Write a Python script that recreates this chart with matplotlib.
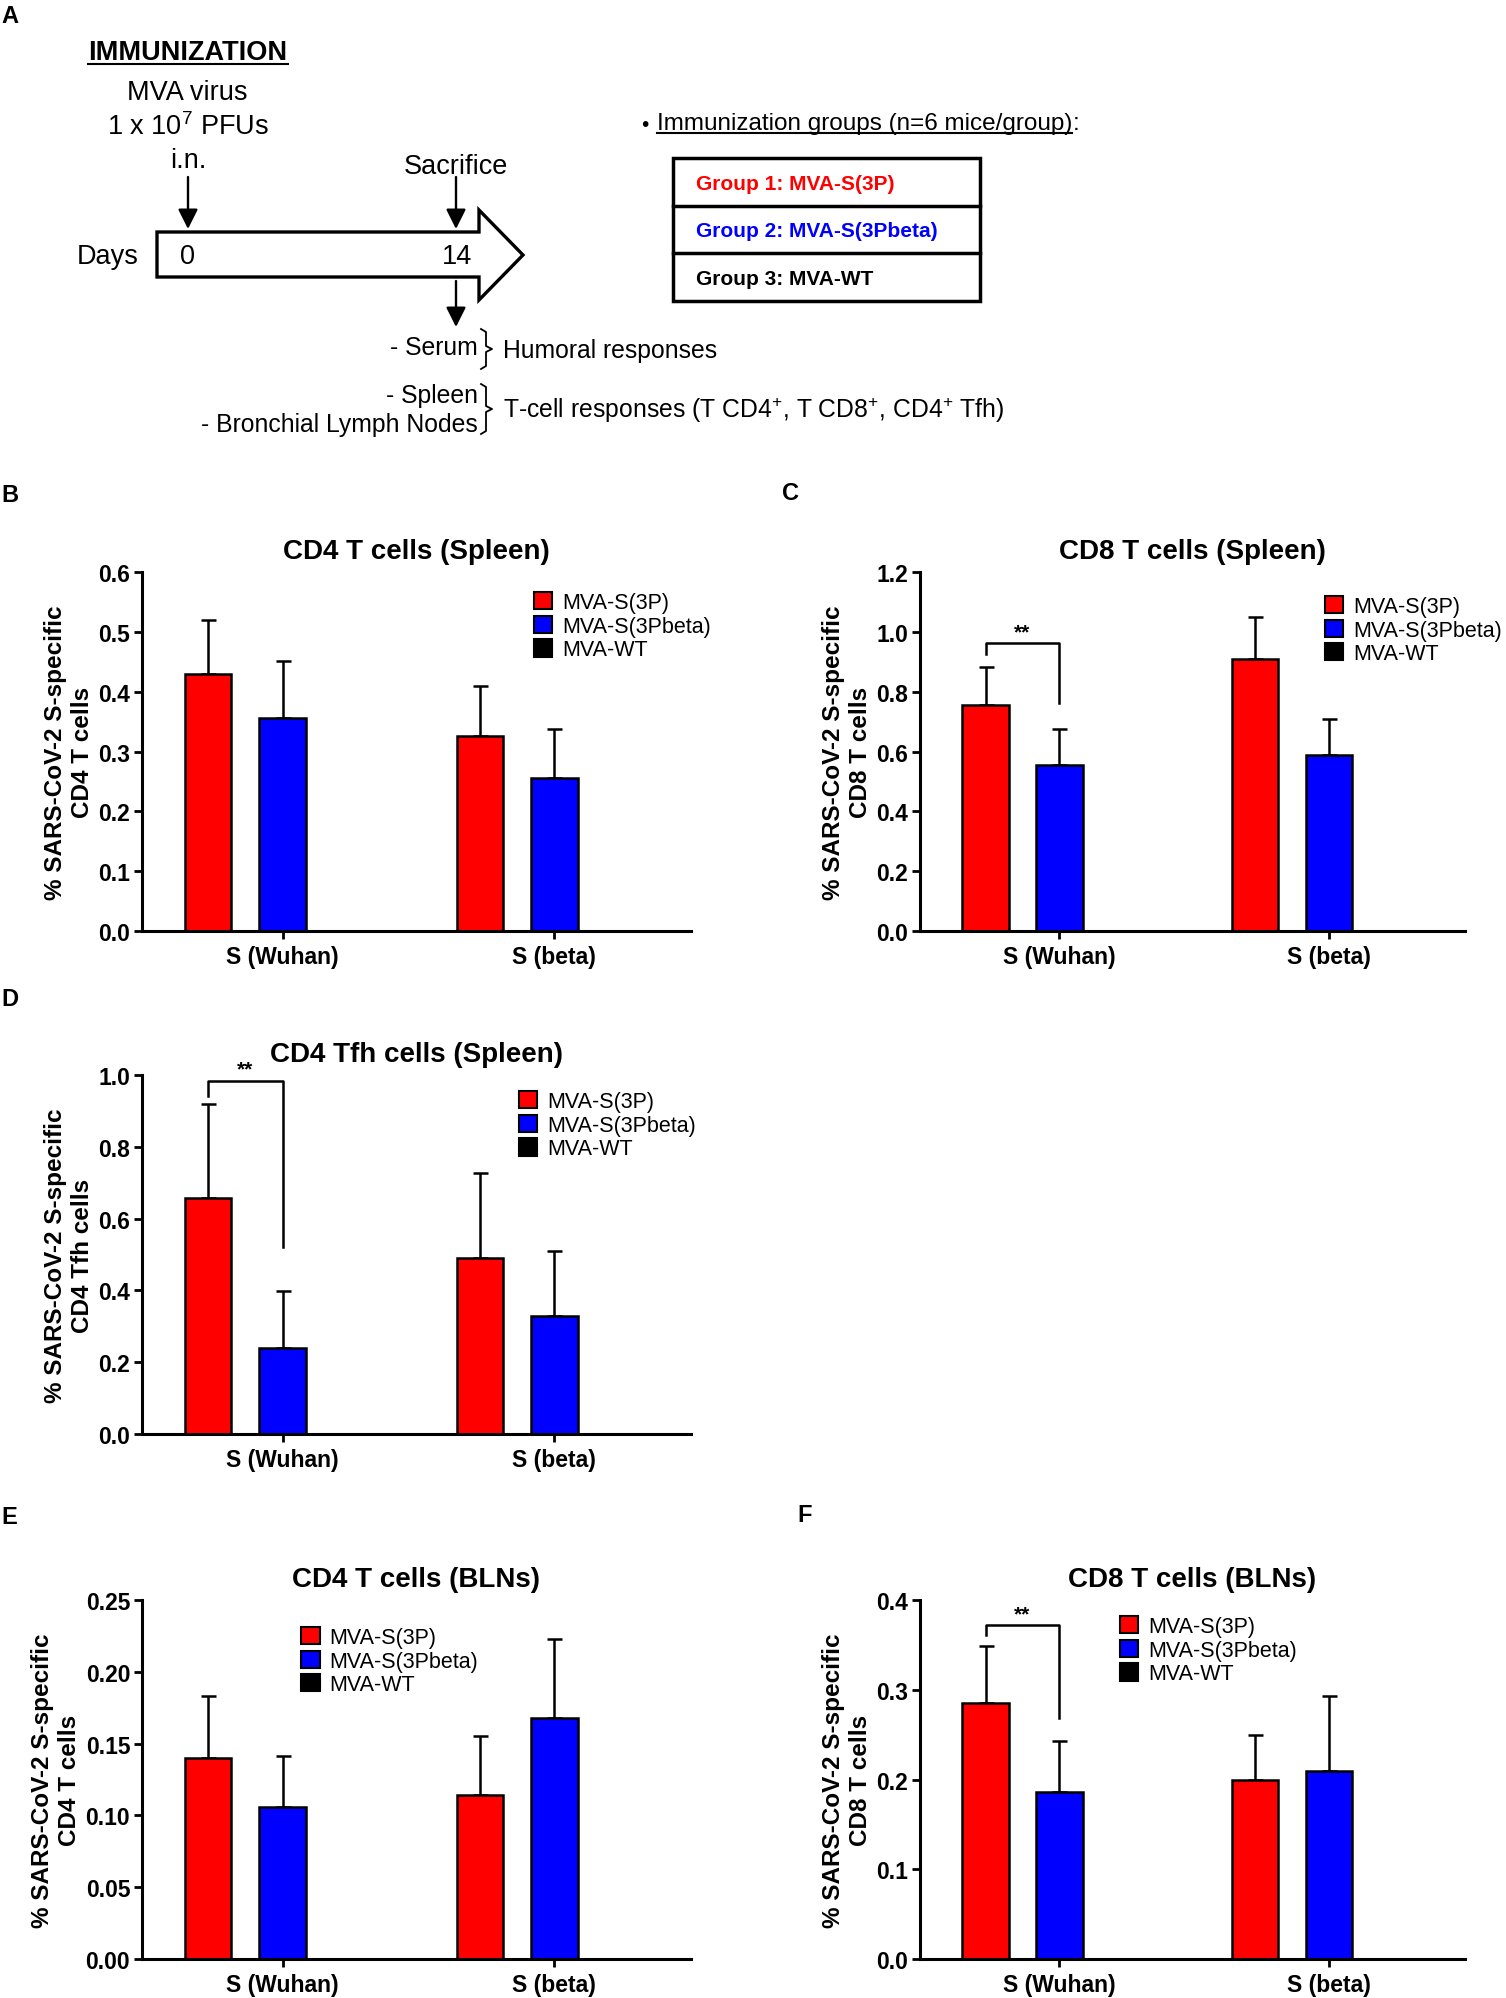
import matplotlib.pyplot as plt
from matplotlib.patches import Patch, Polygon, Rectangle
from matplotlib.ticker import FormatStrFormatter
import numpy as np

plt.rcParams['font.family'] = ['Liberation Sans', 'DejaVu Sans']
plt.rcParams['mathtext.fontset'] = 'custom'
plt.rcParams['mathtext.rm'] = 'Liberation Sans'
plt.rcParams['mathtext.bf'] = 'Liberation Sans:bold'

W, H = 1506, 1999

groups = ['S (Wuhan)', 'S (beta)']
series = ['MVA-S(3P)', 'MVA-S(3Pbeta)', 'MVA-WT']
colors = ['#ff0000', '#0000ff', '#000000']

# means and upper error (SD) for each panel, order: S (Wuhan), S (beta)
cd4_spl_3p = [0.430, 0.326]
cd4_spl_3p_err = [0.090, 0.084]
cd4_spl_3pb = [0.356, 0.256]
cd4_spl_3pb_err = [0.095, 0.082]

cd8_spl_3p = [0.757, 0.908]
cd8_spl_3p_err = [0.125, 0.143]
cd8_spl_3pb = [0.555, 0.589]
cd8_spl_3pb_err = [0.120, 0.121]

tfh_spl_3p = [0.656, 0.490]
tfh_spl_3p_err = [0.263, 0.236]
tfh_spl_3pb = [0.239, 0.330]
tfh_spl_3pb_err = [0.160, 0.181]

cd4_bln_3p = [0.140, 0.114]
cd4_bln_3p_err = [0.043, 0.041]
cd4_bln_3pb = [0.106, 0.168]
cd4_bln_3pb_err = [0.0355, 0.055]

cd8_bln_3p = [0.285, 0.199]
cd8_bln_3p_err = [0.064, 0.051]
cd8_bln_3pb = [0.186, 0.210]
cd8_bln_3pb_err = [0.0565, 0.083]

wt = [0.0, 0.0]


def rect(l, t, r, b):
    return [l / W, 1 - b / H, (r - l) / W, (b - t) / H]


def bar_panel(ax, means, errs, title, ylab, ymax, step, fmt, leg_xy, sig=None):
    x = np.arange(len(groups))
    off = [-0.274, 0.0, 0.274]
    for k in range(3):
        ax.bar(x + off[k], means[k], width=0.171, color=colors[k],
               edgecolor='k', linewidth=1.8, zorder=2)
        if errs[k] is not None:
            ax.errorbar(x + off[k], means[k], yerr=[np.zeros(len(x)), errs[k]],
                        fmt='none', ecolor='k', elinewidth=1.8, capsize=5.4,
                        capthick=1.8, zorder=1)
    ax.set_xlim(-0.517, 1.503)
    ax.set_ylim(0, ymax)
    ax.set_yticks(np.arange(0, ymax + step / 2, step))
    ax.yaxis.set_major_formatter(FormatStrFormatter(fmt))
    ax.set_xticks(x)
    ax.set_xticklabels(groups)
    for s in ['top', 'right']:
        ax.spines[s].set_visible(False)
    for s in ['left', 'bottom']:
        ax.spines[s].set_linewidth(2.2)
    ax.tick_params(direction='out', width=2.0, length=6, labelsize=16.5)
    ax.tick_params(axis='y', pad=2.5)
    ax.tick_params(axis='x', pad=4)
    for lb in ax.get_yticklabels() + ax.get_xticklabels():
        lb.set_fontweight('bold')
    ax.set_title(title, fontsize=20, fontweight='bold', pad=10)
    ax.set_ylabel(ylab, fontsize=17.5, fontweight='bold', labelpad=3,
                  linespacing=1.25)
    handles = [Patch(facecolor=c, edgecolor='k', linewidth=1.5) for c in colors]
    ax.legend(handles, series, loc='upper left', bbox_to_anchor=leg_xy,
              frameon=False, handlelength=0.85, handleheight=0.85,
              handletextpad=0.45, labelspacing=0.12, borderpad=0,
              borderaxespad=0, fontsize=15.5)
    if sig is not None:
        yt, yl, yr, ys = sig
        x0, x1 = off[0], off[1]
        ax.plot([x0, x0, x1, x1], [yl, yt, yt, yr], color='k', lw=1.8,
                clip_on=False, zorder=3)
        ax.text((x0 + x1) / 2, ys, '**', ha='center', va='center',
                fontsize=15, fontweight='bold', clip_on=False)


fig = plt.figure(figsize=(W / 100, H / 100), dpi=100)

# schematic (panel A) drawn on a pixel-coordinate overlay
ov = fig.add_axes([0, 0, 1, 1])
ov.set_xlim(0, W)
ov.set_ylim(H, 0)
ov.axis('off')

fs = 19.5
ov.text(1, 16, 'A', fontsize=17, fontweight='bold', va='center', ha='left')
t_imm = ov.text(188, 53, 'IMMUNIZATION', fontsize=19.5, fontweight='bold',
                ha='center', va='center')
ov.text(187, 93, 'MVA virus', fontsize=fs, ha='center', va='center')
ov.text(188, 127, '1 x 10$^{7}$ PFUs', fontsize=fs, ha='center', va='center')
ov.text(188, 161, 'i.n.', fontsize=fs, ha='center', va='center')
ov.text(456, 167, 'Sacrifice', fontsize=fs, ha='center', va='center')

arw = dict(arrowstyle='-|>', color='k', lw=1.7, mutation_scale=30,
           shrinkA=0, shrinkB=0)
ov.annotate('', xy=(188, 230), xytext=(188, 178), arrowprops=arw)
ov.annotate('', xy=(456, 230), xytext=(456, 178), arrowprops=arw)
ov.annotate('', xy=(456, 328), xytext=(456, 282), arrowprops=arw)

big = Polygon([(157, 233), (479, 233), (479, 211), (523, 256), (479, 301),
               (479, 278), (157, 278)], closed=True, facecolor='white',
              edgecolor='k', lw=2.4)
ov.add_patch(big)
ov.text(108, 257, 'Days', fontsize=fs, ha='center', va='center')
ov.text(188, 257, '0', fontsize=fs, ha='center', va='center')
ov.text(457, 257, '14', fontsize=fs, ha='center', va='center')

fs2 = 17.8
ov.text(478, 348, '- Serum', fontsize=fs2, ha='right', va='center')
ov.text(503, 351, 'Humoral responses', fontsize=fs2, ha='left', va='center')
ov.text(478, 396, '- Spleen', fontsize=fs2, ha='right', va='center')
ov.text(478, 425, '- Bronchial Lymph Nodes', fontsize=fs2, ha='right', va='center')
ov.text(503, 410, 'T-cell responses (T CD4$^{+}$, T CD8$^{+}$, CD4$^{+}$ Tfh)',
        fontsize=fs2, ha='left', va='center')


def brace(x, y0, y1):
    ym = (y0 + y1) / 2
    xs = [x, x + 5, x + 5, x + 11, x + 5, x + 5, x]
    ys = [y0, y0 + 3, ym - 3, ym, ym + 3, y1 - 3, y1]
    ov.plot(xs, ys, color='k', lw=1.3)


brace(481, 330, 370)
brace(481, 385, 435)

ov.text(645, 125, '\u2022', fontsize=15, ha='center', va='center')
t_grp = ov.text(657, 124, 'Immunization groups (n=6 mice/group)', fontsize=17.5,
                ha='left', va='center')
fig.canvas.draw()
bbg = t_grp.get_window_extent()
xend = ov.transData.inverted().transform([[bbg.x1, bbg.y0]])[0][0]
ov.text(xend, 124, ':', fontsize=17.5, ha='left', va='center')

ov.add_patch(Rectangle((673, 159), 307, 143, facecolor='none', edgecolor='k',
                       lw=2.5))
ov.plot([673, 980], [207, 207], color='k', lw=2.5)
ov.plot([673, 980], [254, 254], color='k', lw=2.5)
tbl_txt = ['Group 1: MVA-S(3P)', 'Group 2: MVA-S(3Pbeta)', 'Group 3: MVA-WT']
for i, (tx, c) in enumerate(zip(tbl_txt, colors)):
    ov.text(696, [184, 231, 279][i], tx, fontsize=15, fontweight='bold',
            color=c, ha='left', va='center')

# panel letters
for lt, (px, py) in zip('BCDEF', [(1, 495), (782, 493), (1, 1000),
                                  (1, 1517), (797, 1515)]):
    ov.text(px, py, lt, fontsize=17, fontweight='bold', ha='left', va='center')

axB = fig.add_axes(rect(142, 573, 691, 932))
bar_panel(axB, [cd4_spl_3p, cd4_spl_3pb, wt], [cd4_spl_3p_err, cd4_spl_3pb_err, None],
          'CD4 T cells (Spleen)', '% SARS-CoV-2 S-specific\nCD4 T cells',
          0.6, 0.1, '%.1f', (0.714, 0.944))

axC = fig.add_axes(rect(920, 573, 1465, 932))
bar_panel(axC, [cd8_spl_3p, cd8_spl_3pb, wt], [cd8_spl_3p_err, cd8_spl_3pb_err, None],
          'CD8 T cells (Spleen)', '% SARS-CoV-2 S-specific\nCD8 T cells',
          1.2, 0.2, '%.1f', (0.743, 0.933), sig=(0.963, 0.926, 0.762, 1.0))

axD = fig.add_axes(rect(142, 1076, 691, 1435))
bar_panel(axD, [tfh_spl_3p, tfh_spl_3pb, wt], [tfh_spl_3p_err, tfh_spl_3pb_err, None],
          'CD4 Tfh cells (Spleen)', '% SARS-CoV-2 S-specific\nCD4 Tfh cells',
          1.0, 0.2, '%.1f', (0.687, 0.955), sig=(0.984, 0.941, 0.52, 1.018))

axE = fig.add_axes(rect(142, 1601, 691, 1960))
bar_panel(axE, [cd4_bln_3p, cd4_bln_3pb, wt], [cd4_bln_3p_err, cd4_bln_3pb_err, None],
          'CD4 T cells (BLNs)', '% SARS-CoV-2 S-specific\nCD4 T cells',
          0.25, 0.05, '%.2f', (0.29, 0.925))

axF = fig.add_axes(rect(920, 1601, 1465, 1960))
bar_panel(axF, [cd8_bln_3p, cd8_bln_3pb, wt], [cd8_bln_3p_err, cd8_bln_3pb_err, None],
          'CD8 T cells (BLNs)', '% SARS-CoV-2 S-specific\nCD8 T cells',
          0.4, 0.1, '%.1f', (0.367, 0.955), sig=(0.372, 0.361, 0.268, 0.385))

# underlines under headings, sized from the rendered text
fig.canvas.draw()
inv = ov.transData.inverted()
for t, yline in [(t_imm, 65), (t_grp, 134)]:
    bb = t.get_window_extent()
    (xa, _), (xb, _) = inv.transform([[bb.x0, bb.y0], [bb.x1, bb.y1]])
    ov.plot([xa, xb], [yline, yline], color='k', lw=1.5)

fig.savefig('out.png', dpi=100)
